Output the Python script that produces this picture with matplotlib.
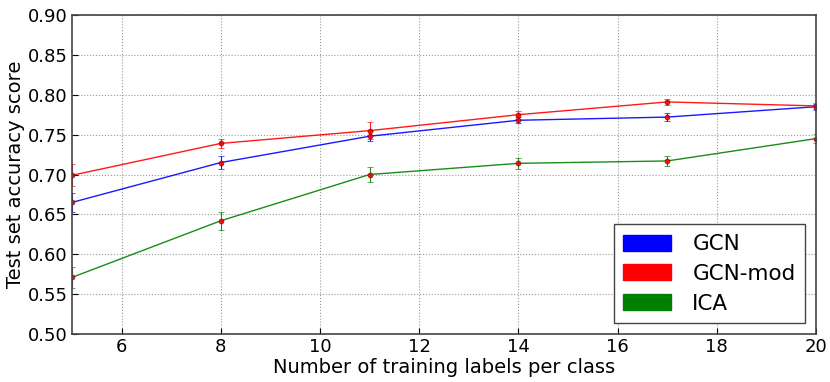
import numpy as np
import matplotlib
matplotlib.use("Agg")
from matplotlib import pyplot as plt
from matplotlib.patches import Patch

labels_per_class = [5, 8, 11, 14, 17, 20]
gcn = [0.665, 0.715, 0.748, 0.768, 0.772, 0.785]
gcn_err = [0.012, 0.008, 0.006, 0.004, 0.005, 0.004]
gcn_mod = [0.699, 0.739, 0.755, 0.775, 0.791, 0.786]
gcn_mod_err = [0.014, 0.006, 0.011, 0.005, 0.004, 0.004]
ica = [0.571, 0.642, 0.700, 0.714, 0.717, 0.745]
ica_err = [0.013, 0.011, 0.010, 0.007, 0.006, 0.006]

series = [("GCN", gcn, gcn_err, "blue"),
          ("GCN-mod", gcn_mod, gcn_mod_err, "red"),
          ("ICA", ica, ica_err, "green")]

fig = plt.figure(figsize=(8.3, 3.82), dpi=100)
# axes box: x 72..816 px, y 15..334 px
ax = fig.add_axes([72 / 830, 1 - 334 / 382, 744 / 830, 319 / 382])

for name, vals, err, col in series:
    ax.errorbar(labels_per_class, vals, yerr=err, color=col, lw=1,
                elinewidth=0.8, capsize=2.5, alpha=0.9,
                marker='o', ms=3.5, mfc='red', mec='darkred', mew=0.5)

ax.set_xlim(5, 20)
ax.set_ylim(0.5, 0.9)
ax.set_xticks([6, 8, 10, 12, 14, 16, 18, 20])
ax.set_yticks(np.arange(0.5, 0.901, 0.05))
ax.yaxis.set_major_formatter(matplotlib.ticker.FormatStrFormatter('%.2f'))
ax.grid(True, ls=':', color='#999999', lw=0.8)
ax.tick_params(labelsize=13, direction='in', length=4, pad=3)
for s in ax.spines.values():
    s.set_color('#444444')
    s.set_linewidth(1.2)
ax.set_xlabel("Number of training labels per class", fontsize=14, labelpad=1)
ax.set_ylabel("Test set accuracy score", fontsize=14, labelpad=2)

handles = [Patch(color=c, label=n) for n, _, _, c in series]
ax.legend(handles=handles, loc='lower right', fontsize=15.5, fancybox=False,
          edgecolor='#444444', framealpha=1, handlelength=2.2,
          handleheight=0.75, handletextpad=1.0, borderaxespad=0.5,
          labelspacing=0.45, borderpad=0.45)

fig.savefig("out.png", dpi=100)
